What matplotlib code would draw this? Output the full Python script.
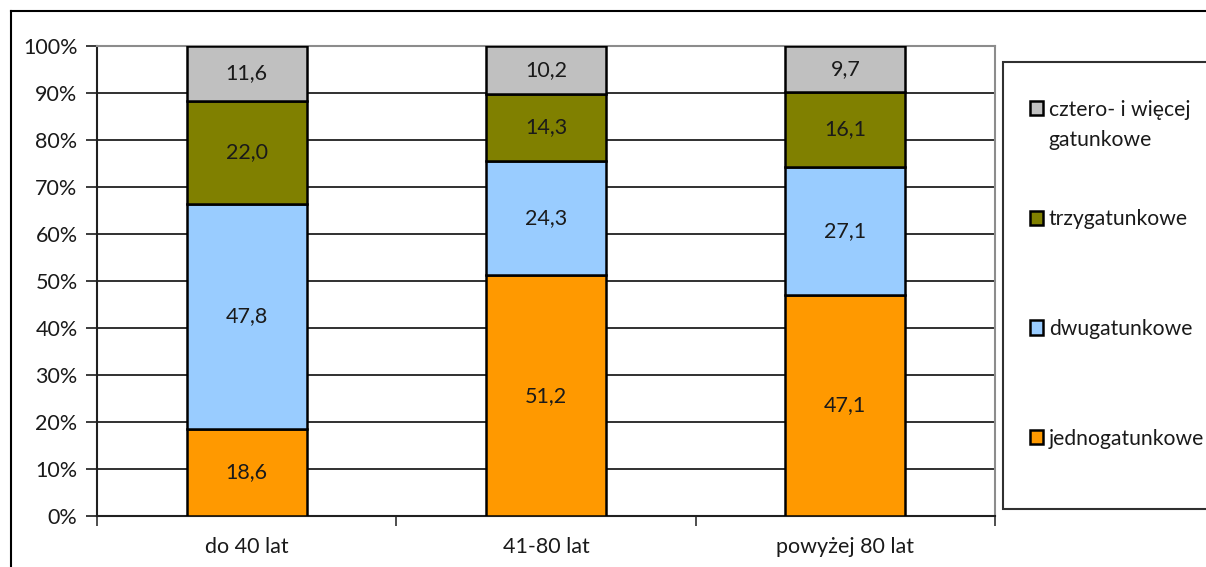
import numpy as np
import matplotlib.pyplot as plt
from matplotlib.lines import Line2D
from matplotlib.patches import Rectangle

plt.rcParams['font.family'] = ['Lato', 'DejaVu Sans']

# udział drzewostanów wg liczby gatunków w klasach wieku (%)
kategorie = ['do 40 lat', '41-80 lat', 'powyżej 80 lat']
jednogatunkowe = [18.6, 51.2, 47.1]
dwugatunkowe = [47.8, 24.3, 27.1]
trzygatunkowe = [22.0, 14.3, 16.1]
czterogatunkowe = [11.6, 10.2, 9.7]

serie = [jednogatunkowe, dwugatunkowe, trzygatunkowe, czterogatunkowe]
nazwy = ['jednogatunkowe', 'dwugatunkowe', 'trzygatunkowe',
         'cztero- i więcej']
kolory = ['#FF9900', '#99CCFF', '#808000', '#C0C0C0']

fig = plt.figure(figsize=(12.06, 5.67), dpi=100)
ax = fig.add_axes([97 / 1206, 51 / 567, 898 / 1206, 470 / 567])

x = np.arange(len(kategorie))
dol = np.zeros(len(kategorie))
paski = []
for wart, kol, nazwa in zip(serie, kolory, nazwy):
    b = ax.bar(x, wart, 0.4, bottom=dol, color=kol, edgecolor='black',
               linewidth=1.8, label=nazwa, zorder=3)
    paski.append(b)
    for xi, d, v in zip(x, dol, wart):
        ax.text(xi, d + v / 2, f'{v:.1f}'.replace('.', ','), ha='center',
                va='center', fontsize=15.5, color='#1a1a1a', zorder=4)
    dol += np.array(wart)

ax.set_xlim(-0.5, 2.5)
ax.set_ylim(0, 100)
ax.set_yticks(np.arange(0, 101, 10))
ax.set_yticklabels([f'{v}%' for v in range(0, 101, 10)])
ax.yaxis.grid(True, color='#303030', linewidth=1.4, zorder=0)

ax.set_xticks(x)
ax.set_xticklabels(kategorie)
ax.set_xticks([-0.5, 0.5, 1.5, 2.5], minor=True)
ax.tick_params(axis='x', which='major', length=0, pad=15, labelsize=15.5,
               colors='#1a1a1a')
ax.tick_params(axis='x', which='minor', length=7, width=1.2, color='#303030')
ax.tick_params(axis='y', length=8, width=1.2, pad=6, labelsize=15.5,
               colors='#1a1a1a')

for s in ['left', 'bottom']:
    ax.spines[s].set_color('#202020')
    ax.spines[s].set_linewidth(1.5)
for s in ['top', 'right']:
    ax.spines[s].set_color('#8c8c8c')
    ax.spines[s].set_linewidth(1.5)

# ramka całego wykresu
fig.add_artist(Line2D([11 / 1206, 11 / 1206], [0, 1 - 11 / 567],
                      color='black', linewidth=1.5))
fig.add_artist(Line2D([11 / 1206, 1], [1 - 11 / 567, 1 - 11 / 567],
                      color='black', linewidth=1.5))

# legenda
fig.add_artist(Rectangle((1003 / 1206, 58 / 567), 0.3, 447 / 567,
                         transform=fig.transFigure, facecolor='white',
                         edgecolor='#303030', linewidth=1.5, clip_on=False))
handles = [p.patches[0] for p in paski][::-1]
leg = fig.legend(handles, nazwy[::-1], loc='upper left',
                 bbox_to_anchor=(1019 / 1206, 1 - 89 / 567), frameon=False,
                 fontsize=15.2, handlelength=0.66, handleheight=0.66,
                 handletextpad=0.25, labelspacing=4.25, borderpad=0,
                 labelcolor='#1a1a1a')

# druga linia opisu pierwszej pozycji legendy
fig.canvas.draw()
bb = leg.get_texts()[0].get_window_extent()
fig.text(bb.x0 / 1206, (bb.y0 - 30) / 567, 'gatunkowe', fontsize=15.2,
         color='#1a1a1a', ha='left', va='bottom')

fig.savefig('out.png', dpi=100)
